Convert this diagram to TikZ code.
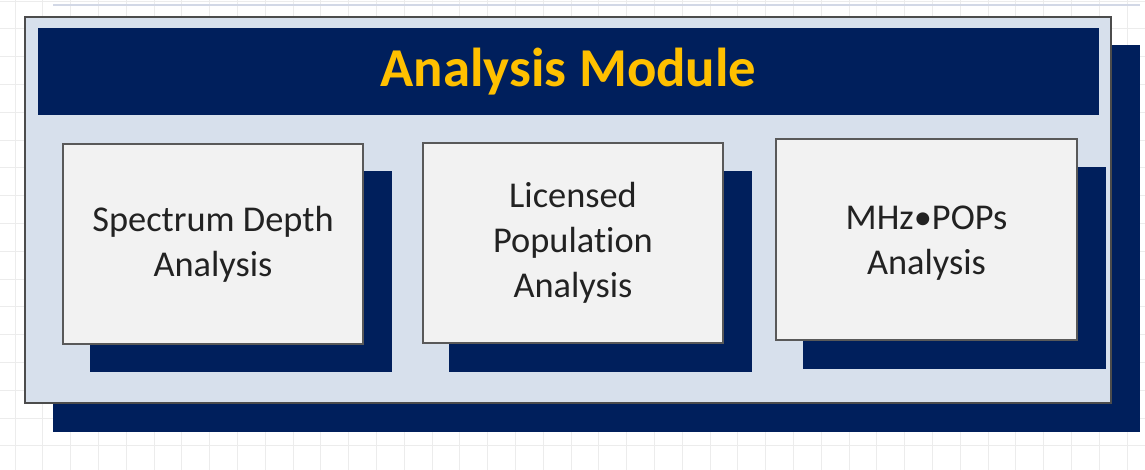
\documentclass[tikz,border=0pt]{standalone}
\usepackage{fontspec}
\setmainfont{Carlito}[Ligatures=NoCommon]
\definecolor{navy}{HTML}{001F5C}
\definecolor{paleblue}{HTML}{D7E0EC}
\definecolor{cardfill}{HTML}{F2F2F2}
\definecolor{gold}{HTML}{FFC000}
\definecolor{gridc}{HTML}{ECECEC}
\definecolor{topline}{HTML}{D2D8E6}
\definecolor{txt}{HTML}{222222}
\begin{document}
\begin{tikzpicture}[x=1bp,y=-1bp,
  shadowbox/.style={fill=navy, draw=none, inner sep=0pt, outer sep=0pt},
  card/.style={fill=cardfill, draw=black!65, line width=1.6bp, inner sep=0pt, outer sep=0pt,
    minimum width=300bp, minimum height=200bp, align=center, text=txt,
    font=\fontsize{36.5pt}{45pt}\selectfont},
  cardtext/.style={inner sep=0pt, outer sep=0pt, align=center, text=txt,
    font=\fontsize{36.5pt}{45pt}\selectfont},
  panel/.style={fill=paleblue, draw=black!70, line width=1.8bp, inner sep=0pt, outer sep=0pt},
  header/.style={fill=navy, draw=none, inner sep=0pt, outer sep=0pt, text=gold,
    font=\fontsize{55pt}{60pt}\selectfont\bfseries}
]
\useasboundingbox (0,0) rectangle (1145,470);
\fill[white] (0,0) rectangle (1145,470);
% faint background grid
\foreach \i in {0,...,41} {\draw[gridc, line width=0.8bp] ({15+27.8*\i},0) -- ({15+27.8*\i},470);}
\foreach \j in {0,...,17} {\draw[gridc, line width=0.8bp] (0,{1+27.8*\j}) -- (1145,{1+27.8*\j});}
\draw[topline, line width=1.5bp] (53,5) -- (1140,5);
% outer panel and its shadow
\node[shadowbox, minimum width=1087bp, minimum height=387bp] (outershadow) at (596.5,238.5) {};
\node[panel, minimum width=1086bp, minimum height=386bp] (outer) at (568,210) {};
% header
\node[header, minimum width=1061bp, minimum height=87bp] (head) at (568.5,71.5) {Analysis Module};
% card shadows
\node[shadowbox, minimum width=302bp, minimum height=201bp] (s1) at (241,271.5) {};
\node[shadowbox, minimum width=303bp, minimum height=201bp] (s2) at (600.5,271.5) {};
\node[shadowbox, minimum width=303bp, minimum height=202bp] (s3) at (954.5,268) {};
% cards
\node[card] (b1) at (213,244) {Spectrum Depth\\Analysis};
\node[card] (b2) at (573,243) {Licensed\\Population\\Analysis};
\node[card, minimum width=301bp, minimum height=201bp] (b3) at (926.5,239.5) {};
\node[cardtext] (t3) at ([yshift=-3.5bp]b3.center) {MHz•POPs\\Analysis};
\end{tikzpicture}
\end{document}
